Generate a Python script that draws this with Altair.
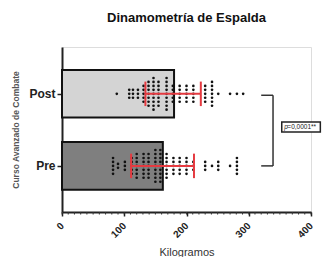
import altair as alt
import pandas as pd

# ---- data ----
groups = ["Pre", "Post"]
group_pos = {"Pre": 0, "Post": 1}
means = [162, 180]
sd_low = [111, 134]
sd_high = [212, 223]

post_values = ([88] + [108]*3 + [114]*3 + [122]*3 + [131]*5 + [139]*7 + [147]*9 + [155]*7 +
               [168]*9 + [178]*5 + [189]*5 + [200]*5 + [211]*5 + [230]*5 + [241]*7 +
               [251]*1 + [270]*1 + [281]*1 + [291]*1)
pre_values = ([82]*5 + [90]*2 + [101]*3 + [112]*5 + [120]*7 + [131]*7 + [139]*7 + [150]*9 +
              [158]*9 + [168]*7 + [179]*5 + [189]*5 + [200]*5 + [211]*3 + [230]*3 +
              [241]*1 + [251]*3 + [270]*1 + [281]*5)

major_ticks = [0, 100, 200, 300, 400]
minor_ticks = list(range(0, 401, 10))
annotation = "=0,0001**"

# ---- frames ----
half = 0.33
step = 0.055
ymin, ymax = -0.64, 1.65
bars = pd.DataFrame({
    "group": groups,
    "mean": means,
    "lo": sd_low,
    "hi": sd_high,
    "pos": [group_pos[g] for g in groups],
})
bars["y0"] = bars["pos"] - half
bars["y1"] = bars["pos"] + half
bars["c0"] = bars["pos"] - 0.17
bars["c1"] = bars["pos"] + 0.17

rows = []
for g, vals in (("Post", post_values), ("Pre", pre_values)):
    for v in vals:
        rows.append({"group": g, "value": v})
pts = pd.DataFrame(rows)
pts["k"] = pts.groupby(["group", "value"]).cumcount()
pts["n"] = pts.groupby(["group", "value"])["value"].transform("count")
pts["y"] = pts["group"].map(group_pos) + (pts["k"] - (pts["n"] - 1) / 2) * step

minor_df = pd.DataFrame({"t": minor_ticks})

xscale = alt.Scale(domain=[0, 400], nice=False)
yscale = alt.Scale(domain=[ymin, ymax], nice=False, zero=False)

xaxis = alt.Axis(
    values=major_ticks, tickSize=4, labelOverlap=False,
    labelAngle=-45, labelAlign="right", labelBaseline="middle",
    labelFontSize=10, labelFontWeight="bold", labelColor="#222",
    domainColor="#222", domainWidth=2, tickColor="#222", tickWidth=1.5,
    title="Kilogramos", titleFontSize=11, titleFontWeight="normal", titleColor="#333",
    titlePadding=7, grid=False, labelPadding=8, labelFlush=False,
)
yaxis = alt.Axis(
    values=[0, 1],
    labelExpr="datum.value == 1 ? 'Post' : 'Pre'",
    labelFontSize=12, labelFontWeight="bold", labelColor="#222",
    domainColor="#222", domainWidth=2, tickColor="#222", tickWidth=1.5, tickSize=5,
    title="Curso Avanzado de Combate", titleFontSize=8.5, titleFontWeight="bold",
    titleColor="#555", titlePadding=8, grid=False,
)

bar = alt.Chart(bars).mark_bar(stroke="#111", strokeWidth=2).encode(
    x=alt.X("mean:Q", scale=xscale, axis=xaxis),
    x2=alt.datum(0),
    y=alt.Y("y0:Q", scale=yscale, axis=yaxis),
    y2="y1:Q",
    color=alt.Color("group:N", scale=alt.Scale(domain=["Post", "Pre"], range=["#d4d4d4", "#7f7f7f"]), legend=None),
)

minor = alt.Chart(minor_df).mark_rule(color="#333", strokeWidth=1, clip=False).encode(
    x="t:Q", y=alt.datum(ymin), y2=alt.datum(ymin - 0.035)
)

dots = alt.Chart(pts).mark_circle(size=7, color="#111", opacity=1).encode(
    x="value:Q", y="y:Q"
)

err = alt.Chart(bars).mark_rule(color="#e53a40", strokeWidth=2).encode(
    x="lo:Q", x2="hi:Q", y="pos:Q"
)
cap_lo = alt.Chart(bars).mark_rule(color="#e53a40", strokeWidth=2).encode(
    x="lo:Q", y="c0:Q", y2="c1:Q"
)
cap_hi = alt.Chart(bars).mark_rule(color="#e53a40", strokeWidth=2).encode(
    x="hi:Q", y="c0:Q", y2="c1:Q"
)

brk = pd.DataFrame({"x": [320, 320, 339], "x2": [339, 339, 339], "y": [0.98, 0.0, 0.0], "y2": [0.98, 0.0, 0.98]})
bracket = alt.Chart(brk).mark_rule(color="#333", strokeWidth=1.5, clip=False).encode(
    x="x:Q", x2="x2:Q", y="y:Q", y2="y2:Q"
)

box = alt.Chart(pd.DataFrame({"x": [353], "x2": [415], "y": [0.47], "y2": [0.61]})).mark_rect(
    fill="white", stroke="#222", strokeWidth=1.5, clip=False
).encode(x="x:Q", x2="x2:Q", y="y:Q", y2="y2:Q")

ptxt = alt.Chart(pd.DataFrame({"x": [357], "y": [0.54], "t": ["p"]})).mark_text(
    fontSize=6.5, fontStyle="italic", align="left", baseline="middle", clip=False, color="#222"
).encode(x="x:Q", y="y:Q", text="t:N")
atxt = alt.Chart(pd.DataFrame({"x": [362], "y": [0.54], "t": [annotation]})).mark_text(
    fontSize=6.5, align="left", baseline="middle", clip=False, color="#222"
).encode(x="x:Q", y="y:Q", text="t:N")

chart = alt.layer(bar, minor, dots, err, cap_lo, cap_hi, bracket, box, ptxt, atxt).properties(
    width=249, height=165,
    title=alt.Title("Dinamometría de Espalda", fontSize=13, fontWeight="bold", color="#111",
                    anchor="middle", offset=22),
    autosize=alt.AutoSizeParams(type="none"),
    padding={"left": 54, "top": 39, "right": 11, "bottom": 45},
).configure_view(stroke=None).configure(font="Liberation Sans")

chart.save("out.html", embed_options={"renderer": "svg", "actions": False})
